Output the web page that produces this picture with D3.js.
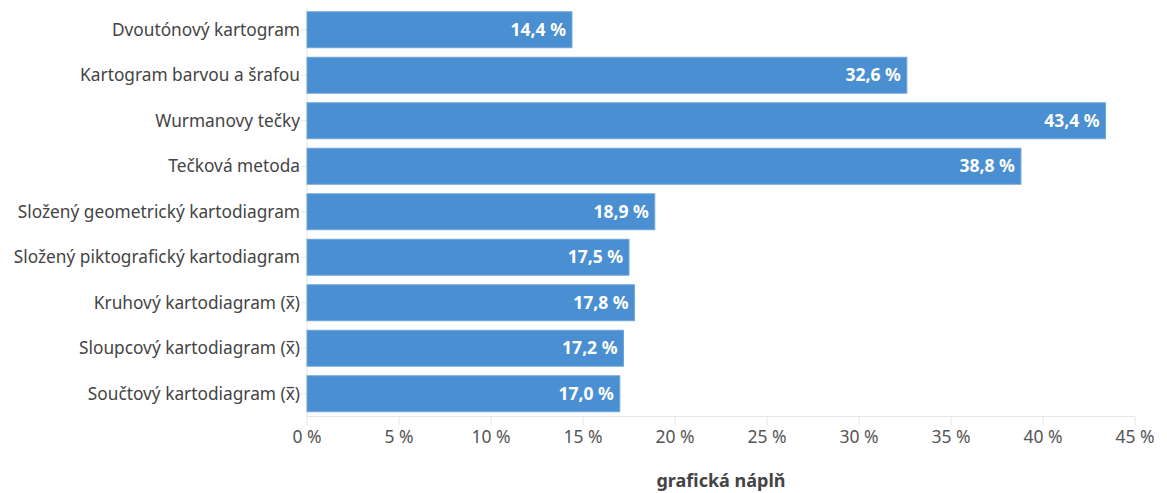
<!DOCTYPE html>
<html>
<head>
<meta charset="utf-8">
<script src="https://cdn.jsdelivr.net/npm/d3@7"></script>
<style>
  body { margin: 0; background: #fff; }
  svg text { font-family: "Noto Sans", "Open Sans", sans-serif; }
</style>
</head>
<body>
<div id="chart1"></div>
<script>
var categories = [
  "Dvoutónový kartogram",
  "Kartogram barvou a šrafou",
  "Wurmanovy tečky",
  "Tečková metoda",
  "Složený geometrický kartodiagram",
  "Složený piktografický kartodiagram",
  "Kruhový kartodiagram (x̅)",
  "Sloupcový kartodiagram (x̅)",
  "Součtový kartodiagram (x̅)"
];
var values = [14.4, 32.6, 43.4, 38.8, 18.9, 17.5, 17.8, 17.2, 17.0];
var ticks = [0, 5, 10, 15, 20, 25, 30, 35, 40, 45];
var axisTitle = "grafická náplň";

var width = 1167, height = 493;
var margin = { top: 7, right: 32, bottom: 76, left: 307 };

var svg = d3.select("#chart1").append("svg")
  .attr("width", width)
  .attr("height", height);

var x = d3.scaleLinear()
  .domain([0, 45])
  .range([margin.left, width - margin.right]);

var y = d3.scaleBand()
  .domain(categories)
  .range([margin.top, height - margin.bottom - 0.5])
  .paddingInner(0.21)
  .paddingOuter(0.105);

var fmt = function (v) { return d3.format(".1f")(v).replace(".", ",") + " %"; };

// axis lines
svg.append("line")
  .attr("x1", x(0)).attr("x2", x(0))
  .attr("y1", margin.top).attr("y2", y.range()[1])
  .attr("stroke", "#e6e6e6");

svg.append("line")
  .attr("x1", x(0)).attr("x2", x(45))
  .attr("y1", y.range()[1]).attr("y2", y.range()[1])
  .attr("stroke", "#e6e6e6");

// y ticks
svg.selectAll(".ytick")
  .data(categories)
  .enter().append("line")
  .attr("x1", x(0) - 6).attr("x2", x(0))
  .attr("y1", function (d) { return y(d) + y.bandwidth() / 2; })
  .attr("y2", function (d) { return y(d) + y.bandwidth() / 2; })
  .attr("stroke", "#e6e6e6");

// x ticks
svg.selectAll(".xtick")
  .data(ticks)
  .enter().append("line")
  .attr("x1", function (d) { return x(d); })
  .attr("x2", function (d) { return x(d); })
  .attr("y1", y.range()[1]).attr("y2", y.range()[1] + 9)
  .attr("stroke", "#e6e6e6");

svg.selectAll(".xlabel")
  .data(ticks)
  .enter().append("text")
  .attr("x", function (d) { return x(d); })
  .attr("y", 443)
  .attr("text-anchor", "middle")
  .attr("fill", "#555")
  .style("font-size", "17.5px")
  .text(function (d) { return d + " %"; });

// bars
svg.selectAll(".bar")
  .data(values)
  .enter().append("rect")
  .attr("class", "bar")
  .attr("x", x(0))
  .attr("y", function (d, i) { return y(categories[i]); })
  .attr("width", function (d) { return x(d) - x(0); })
  .attr("height", y.bandwidth())
  .attr("fill", "#4a8fd1")
  .attr("stroke", "#6ea6dc")
  .attr("stroke-width", 1);

// category labels
svg.selectAll(".ylabel")
  .data(categories)
  .enter().append("text")
  .attr("x", x(0) - 7)
  .attr("y", function (d) { return y(d) + y.bandwidth() / 2; })
  .attr("dy", "0.35em")
  .attr("text-anchor", "end")
  .attr("fill", "#444")
  .style("font-size", "17.3px")
  .text(function (d) { return d; });

// value labels
svg.selectAll(".bar-label")
  .data(values)
  .enter().append("text")
  .attr("class", "bar-label")
  .attr("x", function (d) { return x(d) - 6; })
  .attr("y", function (d, i) { return y(categories[i]) + y.bandwidth() / 2; })
  .attr("dy", "0.35em")
  .attr("text-anchor", "end")
  .attr("fill", "#fff")
  .style("font-size", "17.5px")
  .style("font-weight", "bold")
  .text(fmt);

// axis title
svg.append("text")
  .attr("x", (x(0) + x(45)) / 2)
  .attr("y", 487)
  .attr("text-anchor", "middle")
  .attr("fill", "#444")
  .style("font-size", "18px")
  .style("font-weight", "bold")
  .text(axisTitle);
</script>
</body>
</html>
